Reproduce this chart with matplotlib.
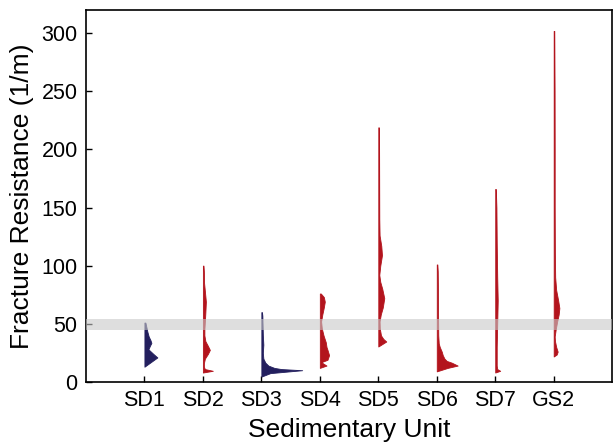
import matplotlib
matplotlib.use("Agg")
import matplotlib.pyplot as plt
import numpy as np

plt.rcParams['font.family'] = ['Liberation Sans', 'DejaVu Sans']

units = ['SD1', 'SD2', 'SD3', 'SD4', 'SD5', 'SD6', 'SD7', 'GS2']
colors = ['#231f5e', '#b3141d', '#231f5e', '#b3141d', '#b3141d', '#b3141d', '#b3141d', '#b3141d']

# half-violin outlines: (fracture resistance, half width in px)
sd1 = [(13, 0), (17, 6.5), (21, 13), (24, 9), (28, 4), (31, 5.5), (33.5, 7), (36, 6),
       (39, 4.3), (43, 3), (47, 2), (51, 1)]
sd2 = [(8, 0), (9.5, 10), (11, 2), (13, 1), (16, 1), (20, 2), (24, 5), (27.5, 7), (31, 5),
       (35, 2.5), (40, 1.5), (45, 1.5), (52, 2), (60, 2.5), (69, 3), (78, 2), (85, 1.2),
       (95, 1), (100, 0.6)]
sd3 = [(4.5, 0), (7.5, 9), (10, 41), (11, 20), (12, 13), (14, 7), (16.5, 4), (20, 2),
       (25, 1.5), (32, 2), (40, 1.5), (50, 1.2), (57, 1), (60, 0.6)]
sd4 = [(12, 0), (14, 6.7), (16, 3), (17, 1.7), (19, 7.7), (23, 9.3), (27.5, 7.7), (30, 6.7),
       (34, 6), (40, 3.7), (46, 2), (52, 1.3), (58, 2.5), (64, 4), (69, 5), (73, 4), (76, 1)]
sd5 = [(30.4, 0), (34.7, 8), (37, 5), (40, 2.7), (46, 1.5), (52, 1.3), (58, 2.5), (64, 4.5),
       (72, 6), (80, 4), (86, 2), (92, 1), (100, 2), (109, 3.7), (117, 3), (126, 1.3),
       (140, 1), (170, 0.9), (200, 0.8), (219, 0.6)]
sd6 = [(9, 0), (12, 11), (14, 21), (16.5, 15), (18, 10), (20, 7.7), (23, 6), (26, 5), (30, 3),
       (33, 2), (40, 1.5), (60, 1.3), (80, 1.2), (95, 1), (101, 0.6)]
sd7 = [(8, 0), (9.5, 5), (11, 2), (14, 1.5), (20, 1.5), (30, 1.5), (50, 2), (70, 2.5),
       (90, 2), (120, 1.5), (150, 1.2), (166, 0.6)]
gs2 = [(21.8, 0), (23.5, 3), (26, 4), (30, 2.5), (35, 1.3), (39, 1), (45, 2), (52, 3.5),
       (58, 5), (63.5, 5.7), (70, 4.5), (79, 2.5), (90, 1.5), (110, 1.2), (150, 1),
       (200, 1), (250, 0.9), (302, 0.6)]
profiles = [sd1, sd2, sd3, sd4, sd5, sd6, sd7, gs2]

band_lo, band_hi = 45, 54

fig = plt.figure(figsize=(6.14, 4.44), dpi=100)
ax = fig.add_axes([0.140, 0.140, 0.857, 0.8375])

px_per_unit = 58.7
for i, (prof, c) in enumerate(zip(profiles, colors)):
    pos = i + 1
    yv = np.array([p[0] for p in prof])
    wv = np.array([p[1] for p in prof]) / px_per_unit
    ax.fill_betweenx(yv, pos, pos + wv, color=c, lw=0.6, zorder=2)

ax.axhspan(band_lo, band_hi, color='#c8c8c8', alpha=0.6, lw=0, zorder=3)

ax.set_xlim(0, 9)
ax.set_ylim(0, 320)
ax.set_xticks(range(1, 9))
ax.set_xticklabels(units)
ax.set_yticks(range(0, 301, 50))
ax.tick_params(direction='in', length=4, width=1, labelsize=15.5, pad=6)
for s in ax.spines.values():
    s.set_linewidth(1.2)
ax.set_xlabel('Sedimentary Unit', fontsize=19, labelpad=5)
ax.set_ylabel('Fracture Resistance (1/m)', fontsize=19, labelpad=5)

fig.savefig('out.png', dpi=100)
